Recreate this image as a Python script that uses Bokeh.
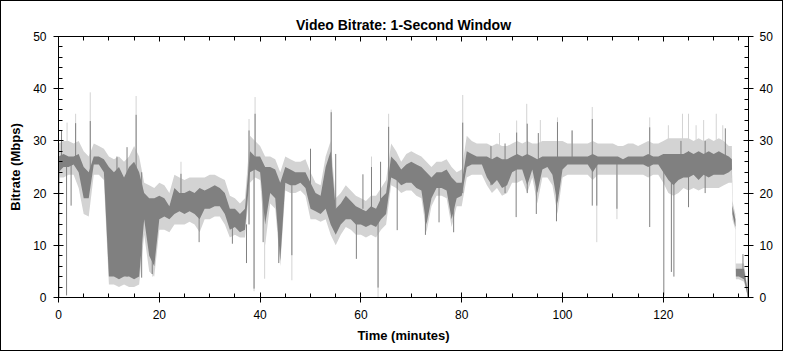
from bokeh.plotting import figure
from bokeh.models import Range1d, LinearAxis, SingleIntervalTicker
from bokeh.embed import file_html
from bokeh.resources import INLINE

# time grid (minutes)
minutes = list(range(134)) + [133.6, 133.7, 134.3, 134.4, 135, 136, 136.8]

# dark gray band (typical 1-second bitrate spread), Mbps
dark_lo = [24, 25, 25, 25.5, 24, 19, 19, 25.5, 25.5, 24,
           4, 4, 3.5, 4, 4, 3.5, 4, 15, 8, 6,
           15, 15.5, 15, 16, 16.5, 16, 16.5, 16, 15, 17,
           17, 17.5, 17.5, 16, 13, 13.5, 12.5, 13, 24, 24.5,
           24, 14, 20, 19, 7, 22, 21.5, 21.5, 22, 21,
           17, 16.5, 16, 17, 14, 12, 14, 15, 15, 14,
           14, 13.5, 14, 13.5, 15, 16, 23, 22.5, 21.5, 22,
           22, 21, 20.5, 14, 19, 21, 21, 20.5, 15, 19,
           19.5, 25, 25.5, 25.5, 25.5, 23, 21.5, 22.5, 21, 21.5,
           24, 24.5, 24.5, 21.5, 24.5, 20, 24.5, 25, 23.5, 18,
           24.5, 25.5, 25.5, 25.5, 25.5, 25.5, 24, 25.5, 25.5, 25.5,
           25.5, 25.5, 25.5, 25.5, 25.5, 25.5, 25.5, 25, 25.5, 25.5,
           24, 22.5, 21.5, 22.5, 23, 23, 23.5, 22.5, 23.5, 23,
           23.5, 23.5, 23.5, 24,
           24.5, 16, 13.5, 4, 4, 3.5, 0]
dark_hi = [27, 27.5, 27, 27, 27.5, 25, 24, 27, 27, 26.5,
           25, 24, 25, 23, 25, 26, 24, 20, 19, 19,
           19.5, 19, 17.5, 21, 20, 20, 20.5, 20, 21, 20.5,
           21, 21.5, 21, 20, 17, 17, 16, 17, 28, 27,
           27, 25, 25, 24.5, 22, 25, 24.5, 24, 24, 24,
           22, 20, 19.5, 25, 28, 17, 18, 19.5, 18.5, 17.5,
           17, 16.5, 17.5, 17, 19, 20, 27, 26, 24.5, 25.5,
           26, 25.5, 25, 24, 23, 24, 24, 24.5, 23, 22,
           22, 28, 27.5, 27, 27, 27, 26.5, 27, 26.5, 26.5,
           27, 27.5, 27, 27.5, 27, 26.5, 27, 27, 27, 27,
           27, 27, 27, 27, 27, 27, 27.5, 27, 27, 27,
           27, 27, 26.5, 27, 27, 27, 27, 27.5, 27, 27,
           27.5, 27.5, 27.5, 27.5, 27.5, 28, 27.5, 28, 27.5, 28,
           27.5, 28, 27.5, 27,
           26.5, 17.6, 15, 5.5, 5.5, 5.5, 1]

# light gray band (peak spread), Mbps
light_lo = [23, 23, 23.5, 23.5, 21, 16, 15.5, 23.5, 23.5, 22.5,
            2.5, 2.5, 2, 2.5, 2, 2, 2.5, 12, 5, 4,
            13, 13, 12.5, 14, 14, 14, 14.5, 14, 12.5, 15,
            15, 15.5, 15.5, 14, 11.5, 12, 11.5, 11.5, 22, 23,
            22.5, 10, 18, 17, 6, 20.5, 20, 20, 20.5, 19.5,
            15, 15, 14.5, 15, 12, 10, 12, 13.5, 13, 12,
            12, 11.5, 12, 11.5, 13, 14, 21.5, 21, 20, 20.5,
            20.5, 19.5, 19, 12.5, 17.5, 19.5, 19.5, 19, 13.5, 17.5,
            17.5, 23, 23.5, 23.5, 23.5, 21.5, 20, 21, 19.5, 20,
            22, 22, 22.5, 20, 23, 18, 23, 23, 21.5, 16,
            23, 23.5, 23.5, 23.5, 23.5, 23.5, 22.5, 23.5, 23.5, 23.5,
            23.5, 23.5, 23.5, 23.5, 23.5, 23.5, 23.5, 23, 23.5, 23.5,
            22, 20, 19.5, 20, 21, 20.5, 21, 20.5, 21, 21,
            21, 21, 21.5, 22,
            22, 15, 13, 3.5, 3.5, 3, 0]
light_hi = [29.5, 30, 30, 29.5, 30, 28, 27, 29.5, 29, 28.5,
            27, 26.5, 27, 26, 27, 29, 27, 22, 21.5, 21,
            22, 21.5, 20, 23.5, 23, 22.5, 23, 23, 23, 23,
            23.5, 23.5, 23, 22.5, 19.5, 19, 18, 19, 31, 30,
            29, 27, 27, 26.5, 24, 27, 26.5, 26, 26, 26.5,
            24, 22, 21.5, 27, 30, 19, 20, 21.5, 20.5, 19.5,
            19, 18.5, 19.5, 19.5, 21, 22.5, 29.5, 28, 26, 27.5,
            28, 27.5, 27, 26, 25, 26, 26, 26.5, 25, 24,
            24.5, 31, 30, 29.5, 29.5, 29.5, 29, 29.5, 29, 29,
            29.5, 30, 29.5, 30, 29.5, 29.5, 30, 30, 30, 30,
            30, 29.5, 29.5, 29.5, 29.5, 29.5, 30, 29.5, 29.5, 29.5,
            29.5, 29, 29, 29.5, 29.5, 29, 29.5, 30, 29.5, 29.5,
            30, 30.5, 30.5, 30.5, 30.5, 30.5, 30, 30.5, 30, 30.5,
            30, 30.5, 30, 29,
            29, 18.5, 16, 6.5, 6.5, 6.5, 1]

# isolated dark spikes: time, low, high
dspike_t = [0.1, 0.6, 1.6, 2.5, 3.4, 6.3, 11.6, 13.6, 15.4, 16.5, 18.6, 24.3,
            27.9, 34.5, 37.3, 37.8, 38.8, 39.0, 40.6, 43.7, 46.3, 50.0, 54.1,
            55.0, 59.1, 60.4, 62.1, 63.4, 63.9, 65.5, 67.2, 72.8, 75.5, 78.4,
            80.2, 85.8, 88.6, 90.8, 90.9, 93.0, 94.8, 95.2, 98.8, 99.0, 101.9,
            105.9, 106.8, 110.8, 117.3, 120.1, 121.6, 122.1, 123.5, 125.0,
            128.3, 132.3, 135.8, 136.8]
dspike_lo = [0, 26, 0.4, 17.6, 26, 24, 4, 4, 24, 3.8, 4.5, 17,
             10.6, 10.3, 6.6, 14, 1.7, 25, 10.6, 6.6, 8.1, 20, 20,
             17, 7.4, 17, 17, 1.9, 17, 20, 12.9, 12, 14.4, 12.5,
             20, 21.5, 20, 15.4, 26, 20, 16, 26, 14.6, 26, 26,
             17.6, 17.6, 17, 13.5, 0.4, 4.9, 4, 26, 17.3,
             20, 26, 4, 0]
dspike_hi = [26, 32, 26, 26, 33.4, 33.8, 27, 28.8, 35, 24, 17, 23.7,
             20, 16, 14, 32, 25, 35.2, 25, 22, 23, 28.5, 35.5,
             27.5, 16, 23.6, 25, 17, 26, 32.7, 24, 24, 22, 22,
             33.5, 29, 29.5, 26, 31.6, 33.3, 26, 31.5, 26, 33.6, 32,
             34.2, 26, 26, 32.6, 25, 24, 24, 30, 28,
             30, 32.4, 8.3, 4]

# isolated light spikes: time, low, high
lspike_t = [1.7, 3.4, 6.3, 15.4, 18.7, 24.3, 37.8, 38.8, 39.0, 40.9, 46.3,
            54.1, 62.1, 63.4, 65.5, 80.2, 87.5, 90.9, 92.9, 95.6, 99.0,
            101.9, 105.9, 106.8, 110.8, 117.3, 121.0, 123.8, 125.0, 126.5,
            128.0, 130.5, 131.8]
lspike_lo = [26, 26, 26, 26, 4, 17, 14, 1.2, 25, 3.6, 3.3,
             20, 17, 0, 20, 22, 26, 26, 26, 26, 26,
             26, 26, 10.6, 15, 26, 27, 27, 27, 27,
             27, 27, 27]
lspike_hi = [33.5, 35.2, 39.3, 38.6, 15, 26, 34.2, 25, 38.4, 25, 22,
             36, 27, 16, 35.2, 38.8, 31.5, 33.9, 37.1, 34, 34.5,
             32, 36.5, 25, 24, 34.5, 33, 35.2, 35.2, 33,
             34, 35.2, 33]

x_tick_interval = 20
y_tick_interval = 10
top_tick_values = [0, 20, 40, 60, 80, 100, 120]

DARK = "#808080"
LIGHT = "#d3d3d3"
FONT = "Liberation Sans"

p = figure(width=783, height=351, output_backend="svg", toolbar_location=None,
           x_range=Range1d(0, 136.9), y_range=Range1d(0, 50),
           min_border_left=57, min_border_right=36, min_border_top=35,
           min_border_bottom=55,
           title="Video Bitrate: 1-Second Window")
p.styles = {"border": "1px solid black"}
p.outline_line_color = None
p.grid.visible = False
p.background_fill_color = "white"
p.border_fill_color = "white"

p.title.align = "center"
p.title.text_font = FONT
p.title.text_font_size = "14px"
p.title.text_font_style = "bold"
p.title.text_color = "black"
p.title.standoff = 7

p.varea(x=minutes, y1=light_lo, y2=light_hi, fill_color=LIGHT)
p.segment(x0=lspike_t, y0=lspike_lo, x1=lspike_t, y1=lspike_hi, line_color=LIGHT, line_width=1)
p.varea(x=minutes, y1=dark_lo, y2=dark_hi, fill_color=DARK)
p.segment(x0=dspike_t, y0=dspike_lo, x1=dspike_t, y1=dspike_hi, line_color=DARK, line_width=1)

xt = SingleIntervalTicker(interval=x_tick_interval, num_minor_ticks=4)
yt = SingleIntervalTicker(interval=y_tick_interval, num_minor_ticks=5)

bottom_axis = p.below[0]
left_axis = p.left[0]
bottom_axis.ticker = xt
left_axis.ticker = yt
bottom_axis.axis_label = "Time (minutes)"
left_axis.axis_label = "Bitrate (Mbps)"

right_axis = LinearAxis(ticker=yt)
top_axis = LinearAxis(ticker=xt,
                      major_label_overrides={v: "" for v in top_tick_values})
p.add_layout(right_axis, "right")
p.add_layout(top_axis, "above")

for ax in [bottom_axis, left_axis, right_axis, top_axis]:
    ax.axis_line_color = "black"
    ax.axis_line_width = 1
    ax.major_tick_line_color = "black"
    ax.minor_tick_line_color = "black"
    ax.major_tick_in = 5
    ax.major_tick_out = 5
    ax.minor_tick_in = 4
    ax.minor_tick_out = 0
    ax.major_label_text_font = FONT
    ax.major_label_text_font_size = "12px"
    ax.major_label_text_color = "black"
    ax.axis_label_text_font = FONT
    ax.axis_label_text_font_size = "13px"
    ax.axis_label_text_font_style = "bold"
    ax.axis_label_text_color = "black"

bottom_axis.major_label_standoff = 7
bottom_axis.axis_label_standoff = 6
left_axis.major_label_standoff = 7
left_axis.axis_label_standoff = 7
right_axis.major_label_standoff = 6
top_axis.major_tick_out = 0
top_axis.major_label_standoff = 0

open("out.html", "w").write(file_html(p, INLINE))
